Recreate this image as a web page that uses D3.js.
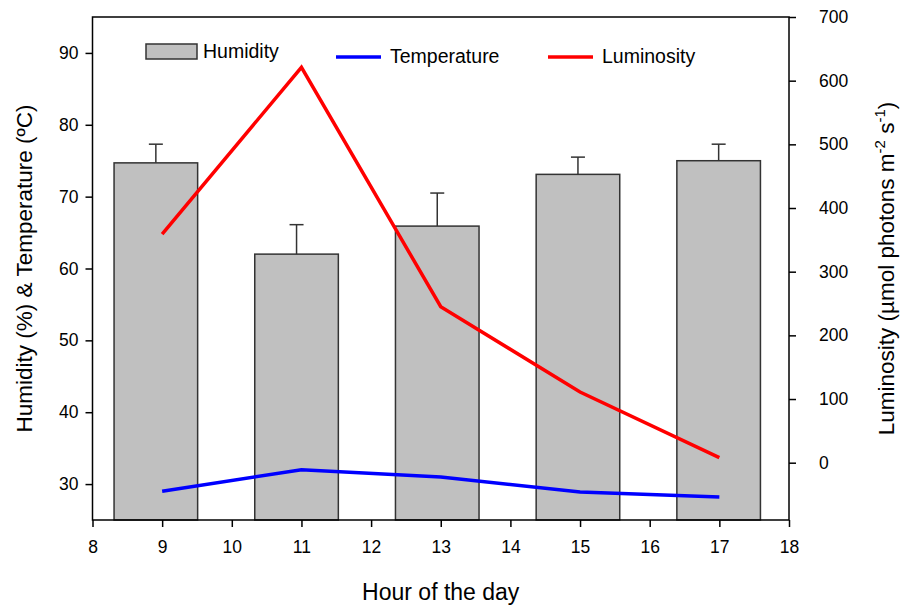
<!DOCTYPE html>
<head>
  <meta charset="utf-8">
  <title>Humidity, temperature and luminosity</title>
  <style>
    body { margin: 0; background: #fff; }
    text { font-family: "Liberation Sans", Arial, sans-serif; fill: #000; }
  </style>
</head>
<body>
  <div id="chart"></div>
  <script src="https://d3js.org/d3.v7.min.js"></script>
  <script>
    // data
    var hours = [9, 11, 13, 15, 17];
    var humidity = [74.7, 62.0, 65.9, 73.1, 75.0];
    var humidityErr = [2.6, 4.1, 4.6, 2.4, 2.3];
    var temperature = [29.0, 32.0, 31.0, 28.9, 28.2];
    var luminosity = [359, 621, 245, 111, 8];
    var xTicks = [8, 9, 10, 11, 12, 13, 14, 15, 16, 17, 18];
    var leftTicks = [30, 40, 50, 60, 70, 80, 90];
    var rightTicks = [0, 100, 200, 300, 400, 500, 600, 700];

    var W = 903, H = 605;
    var margin = {top: 17, right: 114, bottom: 85, left: 92.5};
    var width = W - margin.left - margin.right,
        height = H - margin.top - margin.bottom;

    var svg = d3.select("#chart").append("svg")
        .attr("width", W)
        .attr("height", H);

    var g = svg.append("g")
        .attr("transform", "translate(" + margin.left + "," + margin.top + ")");

    var x = d3.scaleLinear().domain([8, 18]).range([0, width]);
    // bars sit on a slightly different grid in the original figure
    var xBar = d3.scaleLinear().domain([8, 18]).range([-7, width]);
    var yL = d3.scaleLinear().domain([25, 95]).range([height, 0]);
    var yR = d3.scaleLinear().domain([-90, 700]).range([height, 0]);
    var barW = x(1.2) - x(0);

    // bars
    g.selectAll("rect.bar")
      .data(hours)
      .enter().append("rect")
        .attr("class", "bar")
        .attr("x", function(d) { return xBar(d) - barW / 2; })
        .attr("y", function(d, i) { return yL(humidity[i]); })
        .attr("width", barW)
        .attr("height", function(d, i) { return height - yL(humidity[i]); })
        .attr("fill", "#c0c0c0")
        .attr("stroke", "#333")
        .attr("stroke-width", 1.5);

    // error bars (upper only)
    var err = g.append("g").attr("stroke", "#333").attr("stroke-width", 1.5);
    hours.forEach(function(h, i) {
      var cx = xBar(h);
      err.append("line")
        .attr("x1", cx).attr("x2", cx)
        .attr("y1", yL(humidity[i])).attr("y2", yL(humidity[i] + humidityErr[i]));
      err.append("line")
        .attr("x1", cx - 7).attr("x2", cx + 7)
        .attr("y1", yL(humidity[i] + humidityErr[i])).attr("y2", yL(humidity[i] + humidityErr[i]));
    });

    // lines
    var tempLine = d3.line()
        .x(function(d, i) { return x(hours[i]); })
        .y(function(d) { return yL(d); });
    var lumLine = d3.line()
        .x(function(d, i) { return x(hours[i]); })
        .y(function(d) { return yR(d); });

    g.append("path")
      .datum(temperature)
      .attr("d", tempLine)
      .attr("fill", "none")
      .attr("stroke", "#0000ff")
      .attr("stroke-width", 3.5);

    g.append("path")
      .datum(luminosity)
      .attr("d", lumLine)
      .attr("fill", "none")
      .attr("stroke", "#ff0000")
      .attr("stroke-width", 3.5);

    // frame
    g.append("rect")
      .attr("width", width)
      .attr("height", height)
      .attr("fill", "none")
      .attr("stroke", "#000")
      .attr("stroke-width", 1.5);

    // axes
    var xAxis = g.append("g")
      .attr("transform", "translate(0," + height + ")")
      .call(d3.axisBottom(x).tickValues(xTicks).tickSize(7).tickPadding(14));
    var lAxis = g.append("g")
      .call(d3.axisLeft(yL).tickValues(leftTicks).tickSize(7).tickPadding(7));
    var rAxis = g.append("g")
      .attr("transform", "translate(" + width + ",0)")
      .call(d3.axisRight(yR).tickValues(rightTicks).tickSize(7).tickPadding(23));

    [xAxis, lAxis, rAxis].forEach(function(a) {
      a.select(".domain").remove();
      a.selectAll(".tick line").attr("stroke", "#000").attr("stroke-width", 1.5);
      a.selectAll(".tick text")
        .style("font-family", "'Liberation Sans', Arial, sans-serif")
        .style("font-size", "17.5px")
        .attr("fill", "#000");
    });

    // axis titles
    svg.append("text")
      .attr("x", margin.left + width / 2)
      .attr("y", 600)
      .attr("text-anchor", "middle")
      .style("font-size", "23px")
      .text("Hour of the day");

    svg.append("text")
      .attr("transform", "translate(32," + (margin.top + height / 2) + ") rotate(-90)")
      .attr("text-anchor", "middle")
      .style("font-size", "22.5px")
      .text("Humidity (%) & Temperature (ºC)");

    var rt = svg.append("text")
      .attr("transform", "translate(894," + (margin.top + height / 2) + ") rotate(-90)")
      .attr("text-anchor", "middle")
      .style("font-size", "22.5px");
    rt.append("tspan").text("Luminosity (µmol photons m");
    rt.append("tspan").attr("dy", -9).style("font-size", "15px").text("-2");
    rt.append("tspan").attr("dy", 9).text(" s");
    rt.append("tspan").attr("dy", -9).style("font-size", "15px").text("-1");
    rt.append("tspan").attr("dy", 9).text(")");

    // legend
    var legend = svg.append("g");
    legend.append("rect")
      .attr("x", 146).attr("y", 44)
      .attr("width", 51).attr("height", 15)
      .attr("fill", "#c0c0c0")
      .attr("stroke", "#333")
      .attr("stroke-width", 1.5);
    legend.append("text")
      .attr("x", 203).attr("y", 58)
      .style("font-size", "19.5px")
      .text("Humidity");

    var legendLines = [
      {label: "Temperature", color: "#0000ff", x: 336},
      {label: "Luminosity", color: "#ff0000", x: 548}
    ];
    legendLines.forEach(function(d) {
      legend.append("line")
        .attr("x1", d.x).attr("x2", d.x + 45)
        .attr("y1", 57).attr("y2", 57)
        .attr("stroke", d.color)
        .attr("stroke-width", 3.5);
      legend.append("text")
        .attr("x", d.x + 54).attr("y", 63)
        .style("font-size", "19.5px")
        .text(d.label);
    });
  </script>
</body>
